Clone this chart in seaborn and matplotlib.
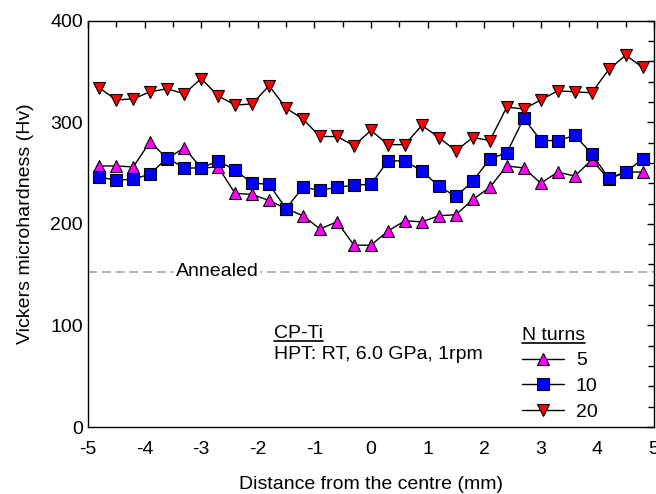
import numpy as np
import pandas as pd
import matplotlib
matplotlib.use("Agg")
import matplotlib.pyplot as plt
from matplotlib.lines import Line2D
import seaborn as sns

sns.set_theme(style="white")
plt.rcParams['font.family'] = ['Liberation Sans', 'DejaVu Sans']
plt.rcParams['axes.unicode_minus'] = False
plt.rcParams['text.color'] = 'black'
plt.rcParams['axes.labelcolor'] = 'black'
plt.rcParams['xtick.color'] = 'black'
plt.rcParams['ytick.color'] = 'black'

# distancia desde el centro (mm)
distance = [-4.8, -4.5, -4.2, -3.9, -3.6, -3.3, -3.0, -2.7, -2.4, -2.1, -1.8,
            -1.5, -1.2, -0.9, -0.6, -0.3, 0.0, 0.3, 0.6, 0.9, 1.2, 1.5,
            1.8, 2.1, 2.4, 2.7, 3.0, 3.3, 3.6, 3.9, 4.2, 4.5, 4.8]

hv_5 = [257, 257, 256, 281, 264, 275, 255, 256, 230, 229, 223,
        215, 208, 195, 202, 179, 179, 193, 203, 202, 208, 209,
        224, 236, 257, 255, 240, 251, 247, 263, 244, 251, 251]

hv_10 = [246, 243, 244, 249, 265, 255, 255, 262, 253, 240, 239,
         215, 236, 233, 236, 238, 239, 262, 262, 252, 237, 227,
         242, 264, 270, 304, 282, 282, 287, 269, 245, 251, 264]

hv_20 = [334, 322, 323, 330, 333, 328, 343, 326, 317, 318, 336,
         314, 303, 286, 286, 277, 292, 278, 278, 297, 285, 272,
         285, 282, 315, 313, 322, 331, 330, 329, 352, 366, 354]

annealed = 153

turns = ["5", "10", "20"]
series = [hv_5, hv_10, hv_20]
markers = ["^", "s", "v"]
colors = ["#ff00ff", "#0000ff", "#ff0000"]
sizes = [9, 8, 9]

FS = 14

fig = plt.figure(figsize=(6.56, 4.94), dpi=100)
ax = fig.add_axes([0.134, 0.1356, 0.863, 0.8225])

for t, vals, m, c, s in zip(turns, series, markers, colors, sizes):
    df = pd.DataFrame({"x": distance, "y": vals})
    sns.lineplot(data=df, x="x", y="y", ax=ax, color="black", linewidth=1,
                 marker=m, markersize=s, markerfacecolor=c,
                 markeredgecolor="black", markeredgewidth=0.8, label=t)

# linea del recocido
ax.axhline(annealed, color="#a0a0a0", linestyle=(0, (6, 3)), linewidth=1.1, zorder=1)
ax.text(-2.72, annealed, "Annealed", ha="center", va="center", fontsize=FS,
        bbox=dict(facecolor="white", edgecolor="none", pad=1), zorder=2)

t1 = ax.text(-1.72, 92, "CP-Ti", fontsize=FS, va="center")
ax.text(-1.72, 71, "HPT: RT, 6.0 GPa, 1rpm", fontsize=FS, va="center")

leg = ax.legend(loc="upper left", bbox_to_anchor=(0.735, 0.29), frameon=False,
                fontsize=FS, handlelength=2.2, handletextpad=0.6, labelspacing=0.42,
                title="N turns", title_fontsize=FS, alignment="left")

ax.set_xlim(-5, 5)
ax.set_ylim(0, 400)
ax.set_xticks(range(-5, 6))
ax.set_yticks([0, 100, 200, 300, 400])
ax.set_xticks(np.arange(-4.5, 5, 1), minor=True)
ax.set_yticks(np.arange(20, 400, 20), minor=True)
ax.tick_params(which="both", direction="in", top=True, right=True,
               labelsize=FS, color="black", width=1)
ax.tick_params(which="major", length=5)
ax.tick_params(which="minor", length=4)
ax.tick_params(axis="x", pad=10)
for sp in ax.spines.values():
    sp.set_color("black")
    sp.set_linewidth(1)

ax.set_xlabel("Distance from the centre (mm)", fontsize=FS, labelpad=13)
ax.set_ylabel("Vickers microhardness (Hv)", fontsize=FS, labelpad=12)

# subrayado a mano (mathtext no tiene \underline)
fig.canvas.draw()
inv = fig.transFigure.inverted()
for txt in [t1, leg.get_title()]:
    bb = txt.get_window_extent().transformed(inv)
    fig.add_artist(Line2D([bb.x0, bb.x1], [bb.y0 + 0.002, bb.y0 + 0.002],
                          color="black", linewidth=1.2, transform=fig.transFigure))

plt.savefig("out.png", dpi=100)
plt.close()
